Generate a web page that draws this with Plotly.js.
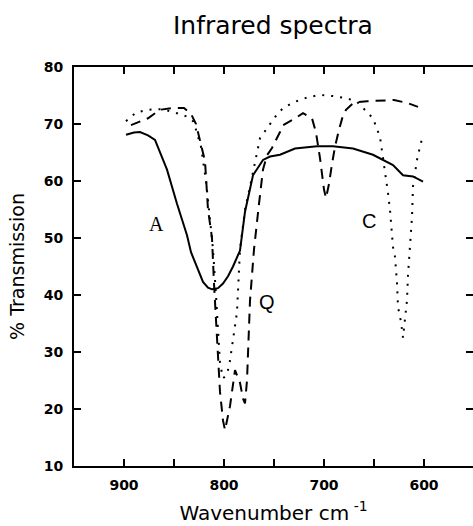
<!DOCTYPE html>
<html>
<head>
<meta charset="utf-8">
<script src="https://cdn.plot.ly/plotly-3.0.1.min.js"></script>
<style>html,body{margin:0;padding:0;background:#fff;}#chart{width:473px;height:526px;}</style>
</head>
<body>
<div id="chart"></div>
<script>
// Spectrum A (solid)
const wnA = [898, 890, 884, 876, 869, 857, 847, 837, 833, 826, 821, 816, 812, 806, 801, 796, 791, 784, 779, 771, 761, 754, 744, 729, 707, 691, 671, 651, 631, 621, 611, 601];
const tA  = [68.1, 68.5, 68.6, 68.0, 67.2, 62.0, 56.0, 50.5, 47.5, 44.5, 42.3, 41.3, 41.0, 41.2, 42.0, 43.3, 45.0, 47.8, 54.6, 61.0, 63.7, 64.3, 64.6, 65.7, 66.1, 66.1, 65.7, 64.6, 62.8, 61.0, 60.8, 59.9];

// Spectrum Q (dashed)
const wnQ = [893, 886, 876, 864, 852, 840, 833, 828, 824, 819, 816, 812, 810, 808, 806, 804, 801, 799, 794, 791, 789, 784, 781, 779, 777, 774, 770, 765, 761, 757, 752, 744, 741, 727, 721, 712, 708, 704, 700, 698, 695, 692, 689, 685, 681, 678, 670, 657, 640, 630, 617, 606];
const tQ  = [69.8, 70.3, 71.0, 72.5, 72.8, 72.8, 71.8, 70.0, 67.0, 63.5, 55.0, 50.0, 42.0, 35.0, 28.0, 23.0, 18.0, 16.3, 20.5, 24.0, 26.8, 24.6, 21.8, 21.0, 25.0, 39.0, 48.0, 56.0, 62.0, 64.5, 65.8, 68.6, 69.8, 71.2, 71.9, 71.0, 68.5, 64.0, 58.5, 57.0, 59.5, 63.0, 66.0, 69.0, 71.5, 72.5, 73.8, 74.0, 74.2, 74.2, 73.7, 73.0];

// Spectrum C (dotted)
const wnC = [898, 888, 876, 862, 849, 837, 831, 828, 823, 818, 815, 811, 808, 806, 804, 801, 797, 794, 791, 787, 784, 779, 774, 771, 764, 756, 749, 741, 729, 716, 704, 691, 677, 667, 659, 651, 644, 641, 639, 636, 634, 632, 631, 629, 627, 626, 623, 621, 620, 618, 617, 616, 614, 612, 611, 607, 604, 601];
const tC  = [70.5, 72.0, 72.5, 72.6, 72.0, 71.3, 70.5, 69.0, 66.0, 60.0, 55.0, 48.0, 40.0, 33.0, 28.0, 25.4, 26.0, 28.5, 32.5, 37.0, 48.0, 55.0, 59.0, 61.4, 67.5, 69.5, 71.2, 72.8, 73.9, 74.7, 75.1, 74.9, 74.5, 73.9, 72.5, 71.0, 67.7, 64.2, 61.4, 57.9, 54.9, 51.4, 48.4, 46.7, 42.1, 37.9, 35.3, 32.5, 33.9, 36.8, 39.1, 43.5, 47.9, 53.7, 59.0, 63.7, 66.0, 68.1];

// Curve labels
const labelText = ["A", "Q", "C"];
const labelWn   = [868, 757, 655];
const labelT    = [52.5, 38.8, 53.0];
const labelFont = ["Liberation Serif", "Liberation Sans", "Liberation Sans"];

// Axis ticks
const xTickVals = [900, 800, 700, 600];
const yTickVals = [10, 20, 30, 40, 50, 60, 70, 80];

const lineStyle = {color: "#000", width: 2};

const traces = [
  {x: wnA, y: tA, type: "scatter", mode: "lines", line: Object.assign({}, lineStyle, {dash: "solid"}), hoverinfo: "skip"},
  {x: wnQ, y: tQ, type: "scatter", mode: "lines", line: Object.assign({}, lineStyle, {dash: "10px,7px"}), hoverinfo: "skip"},
  {x: wnC, y: tC, type: "scatter", mode: "lines", yaxis: "y2", line: Object.assign({}, lineStyle, {dash: "2px,7px"}), hoverinfo: "skip"}
];

const tickFont = {family: "DejaVu Sans", size: 14, color: "#000", weight: "bold"};

const layout = {
  width: 473, height: 526,
  margin: {l: 74, r: 0, t: 67, b: 60},
  paper_bgcolor: "#fff", plot_bgcolor: "#fff",
  showlegend: false,
  title: {text: "Infrared spectra", font: {family: "DejaVu Sans", size: 25, color: "#000"},
          x: 0.577, xref: "container", xanchor: "center", y: 0.952, yref: "container", yanchor: "middle"},
  xaxis: {
    range: [950, 551], autorange: false,
    tickvals: xTickVals, ticktext: xTickVals.map(String),
    ticks: "inside", ticklen: 7, tickwidth: 1.5, tickcolor: "#000",
    minor: {dtick: 50, tick0: 0, ticks: "inside", ticklen: 7, tickwidth: 1.5, tickcolor: "#000"},
    showline: true, linecolor: "#000", linewidth: 2, mirror: "ticks",
    showgrid: false, zeroline: false,
    tickfont: tickFont, ticklabelstandoff: 5,
    title: {text: "Wavenumber cm<sup> -1</sup>", font: {family: "DejaVu Sans", size: 20, color: "#000"}, standoff: 14}
  },
  yaxis: {
    range: [10, 80], autorange: false,
    tickvals: yTickVals, ticktext: yTickVals.map(String),
    ticks: "inside", ticklen: 7, tickwidth: 1.5, tickcolor: "#000",
    showline: true, linecolor: "#000", linewidth: 2, mirror: false,
    showgrid: false, zeroline: false,
    tickfont: tickFont, ticklabelstandoff: 6,
    title: {text: "% Transmission", font: {family: "DejaVu Sans", size: 19, color: "#000"}, standoff: 14}
  },
  yaxis2: {
    overlaying: "y", side: "right", anchor: "x",
    range: [10, 80], autorange: false,
    tickvals: yTickVals, ticktext: yTickVals.map(String), showticklabels: false,
    ticks: "inside", ticklen: 7, tickwidth: 1.5, tickcolor: "#000",
    showline: false, showgrid: false, zeroline: false
  },
  annotations: labelText.map((t, i) => ({
    x: labelWn[i], y: labelT[i], xref: "x", yref: "y", text: t, showarrow: false,
    font: {family: labelFont[i], size: 20, color: "#000"}
  }))
};

Plotly.newPlot("chart", traces, layout, {staticPlot: true, displayModeBar: false});
</script>
</body>
</html>
